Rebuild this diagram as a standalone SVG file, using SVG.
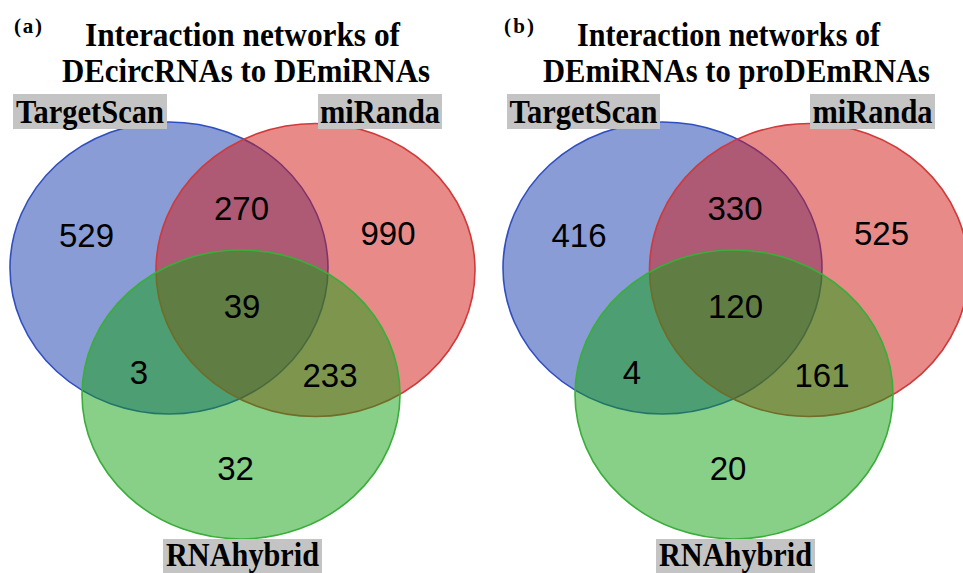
<svg xmlns="http://www.w3.org/2000/svg" width="963" height="573" viewBox="0 0 963 573">
<style>
.b{fill:#1539ad;fill-opacity:0.5;stroke:#2f4fc0;stroke-width:1.6}
.r{fill:#d11711;fill-opacity:0.5;stroke:#d03a3a;stroke-width:1.6}
.g{fill:#119f11;fill-opacity:0.5;stroke:#3aae3a;stroke-width:1.6}
.lab{fill:#c4c4c4}
.t{font-family:"Liberation Serif","Times New Roman",serif;font-weight:bold;fill:#000}
.n{font-family:"Liberation Sans",Arial,sans-serif;font-size:33px;fill:#000;text-anchor:middle}
</style>
<rect width="963" height="573" fill="#fff"/>
<g id="panel-a">
  <text class="t" x="14" y="33" font-size="21" textLength="28" lengthAdjust="spacing">(a)</text>
  <text class="t" x="242.5" y="46" font-size="33" text-anchor="middle" textLength="315" lengthAdjust="spacingAndGlyphs">Interaction networks of</text>
  <text class="t" x="246" y="82" font-size="33" text-anchor="middle" textLength="368" lengthAdjust="spacingAndGlyphs">DEcircRNAs to DEmiRNAs</text>
  <g id="a-targetscan-set"><ellipse class="b" cx="169" cy="268" rx="159" ry="146"/></g>
  <g id="a-miranda-set"><ellipse class="r" cx="315.5" cy="270" rx="159.5" ry="146.5"/></g>
  <g id="a-rnahybrid-set"><ellipse class="g" cx="241" cy="394.5" rx="159" ry="144.5"/></g>
  <g id="a-targetscan-label"><rect class="lab" x="13" y="94" width="154" height="35"/><text class="t" x="90" y="123" font-size="34" text-anchor="middle" textLength="148" lengthAdjust="spacingAndGlyphs">TargetScan</text></g>
  <g id="a-miranda-label"><rect class="lab" x="318" y="94" width="124" height="35"/><text class="t" x="380" y="123" font-size="34" text-anchor="middle" textLength="120" lengthAdjust="spacingAndGlyphs">miRanda</text></g>
  <g id="a-rnahybrid-label"><rect class="lab" x="163" y="539" width="159" height="34"/><text class="t" x="242.5" y="566" font-size="33" text-anchor="middle" textLength="153" lengthAdjust="spacingAndGlyphs">RNAhybrid</text></g>
  <g id="a-counts">
    <text class="n" x="86.5" y="247">529</text>
    <text class="n" x="241.5" y="220">270</text>
    <text class="n" x="388" y="245">990</text>
    <text class="n" x="242" y="318">39</text>
    <text class="n" x="139" y="384">3</text>
    <text class="n" x="330" y="387">233</text>
    <text class="n" x="235.5" y="480">32</text>
  </g>
</g>
<g id="panel-b">
  <text class="t" x="504" y="33" font-size="21" textLength="30" lengthAdjust="spacing">(b)</text>
  <text class="t" x="728.5" y="46" font-size="33" text-anchor="middle" textLength="303" lengthAdjust="spacingAndGlyphs">Interaction networks of</text>
  <text class="t" x="736.5" y="82" font-size="33" text-anchor="middle" textLength="387" lengthAdjust="spacingAndGlyphs">DEmiRNAs to proDEmRNAs</text>
  <g id="b-targetscan-set"><ellipse class="b" cx="662.5" cy="268" rx="159.5" ry="146"/></g>
  <g id="b-miranda-set"><ellipse class="r" cx="809" cy="270" rx="159.5" ry="146.5"/></g>
  <g id="b-rnahybrid-set"><ellipse class="g" cx="734" cy="394.5" rx="159" ry="144.5"/></g>
  <g id="b-targetscan-label"><rect class="lab" x="507" y="94" width="153" height="35"/><text class="t" x="583.5" y="123" font-size="34" text-anchor="middle" textLength="148" lengthAdjust="spacingAndGlyphs">TargetScan</text></g>
  <g id="b-miranda-label"><rect class="lab" x="810" y="94" width="125" height="35"/><text class="t" x="872.5" y="123" font-size="34" text-anchor="middle" textLength="120" lengthAdjust="spacingAndGlyphs">miRanda</text></g>
  <g id="b-rnahybrid-label"><rect class="lab" x="656" y="539" width="159" height="34"/><text class="t" x="735.5" y="566" font-size="33" text-anchor="middle" textLength="153" lengthAdjust="spacingAndGlyphs">RNAhybrid</text></g>
  <g id="b-counts">
    <text class="n" x="579" y="247">416</text>
    <text class="n" x="735" y="220">330</text>
    <text class="n" x="881.5" y="245">525</text>
    <text class="n" x="735.5" y="318">120</text>
    <text class="n" x="632" y="384">4</text>
    <text class="n" x="822" y="387">161</text>
    <text class="n" x="728" y="480">20</text>
  </g>
</g>
<g id="connectors"/>
</svg>
